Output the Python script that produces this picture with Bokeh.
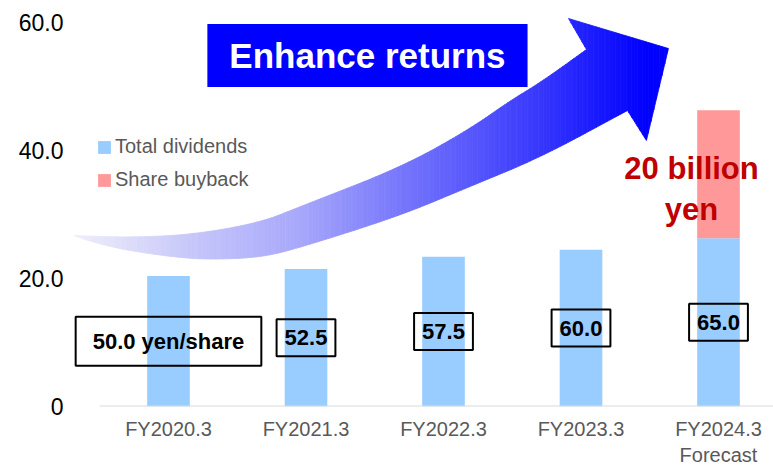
import numpy as np
from bokeh.plotting import figure
from bokeh.models import Range1d, FixedTicker, Legend, LegendItem, ColumnDataSource
from bokeh.core.properties import value
from bokeh.embed import file_html
from bokeh.resources import INLINE

# ---- data (billion yen) ----
categories = ["FY2020.3", "FY2021.3", "FY2022.3", "FY2023.3", "FY2024.3\nForecast"]
total_dividends = [20.4, 21.5, 23.4, 24.5, 26.3]
share_buyback = [0.0, 0.0, 0.0, 0.0, 20.0]
dividend_per_share = [50.0, 52.5, 57.5, 60.0, 65.0]
y_ticks = [0, 20, 40, 60]
y_tick_labels = ["0", "20.0", "40.0", "60.0"]

# ---- decorative arrow outline (in chart units) ----
# upper edge of the shaft, from the tail tip to the notch under the upper barb
arrow_upper_x = [-0.691, -0.276, 0.182, 0.669, 0.960, 1.687, 2.175, 2.487, 2.705, 3.040]
arrow_upper_y = [26.72, 26.41, 26.88, 28.75, 31.25, 37.34, 43.13, 47.81, 50.63, 55.78]
# arrow head: upper barb cut, tip, lower barb, lower notch
arrow_head_x = [3.040, 3.636, 3.476, 3.338]
arrow_head_y = [59.78, 55.94, 41.56, 46.25]
# lower edge of the shaft, from the lower notch back to the tail tip
arrow_lower_x = [3.338, 2.705, 2.175, 1.687, 0.960, 0.669, 0.305, 0.065, -0.298, -0.545, -0.691]
arrow_lower_y = [46.25, 38.91, 34.22, 29.84, 24.84, 23.28, 22.97, 23.28, 24.38, 25.63, 26.72]
arrow_barb_x = [2.909, 3.040, 3.040]
arrow_barb_y = [60.63, 59.78, 55.78]
gradient_x = [-0.691, 0.16, 0.96, 1.687, 2.196, 2.705, 3.142, 3.505]
gradient_level = [240, 200, 168, 120, 88, 56, 24, 0]

FONT = "Liberation Sans"

x = list(range(len(categories)))
stack_top = [d + b for d, b in zip(total_dividends, share_buyback)]

p = figure(width=773, height=469, output_backend="svg", toolbar_location=None,
           x_range=Range1d(-0.7127, 4.4), y_range=Range1d(0, 63.44),
           min_border_left=70, min_border_right=0, min_border_top=0, min_border_bottom=63)
p.outline_line_color = None
p.xgrid.visible = False
p.ygrid.visible = False


def _chaikin(pts, n=3):
    for _ in range(n):
        new = [pts[0]]
        for a, b in zip(pts[:-1], pts[1:]):
            new.append((0.75 * a[0] + 0.25 * b[0], 0.75 * a[1] + 0.25 * b[1]))
            new.append((0.25 * a[0] + 0.75 * b[0], 0.25 * a[1] + 0.75 * b[1]))
        new.append(pts[-1])
        pts = new
    return pts


def _clip(pts, inside, xc):
    out = []
    for i in range(len(pts)):
        cur, prev = pts[i], pts[i - 1]
        if inside(cur):
            if not inside(prev):
                t = (xc - prev[0]) / (cur[0] - prev[0])
                out.append((xc, prev[1] + t * (cur[1] - prev[1])))
            out.append(cur)
        elif inside(prev):
            t = (xc - prev[0]) / (cur[0] - prev[0])
            out.append((xc, prev[1] + t * (cur[1] - prev[1])))
    return out


upper = _chaikin(list(zip(arrow_upper_x, arrow_upper_y)))
lower = _chaikin(list(zip(arrow_lower_x, arrow_lower_y)))
body = upper + list(zip(arrow_head_x, arrow_head_y)) + lower[1:-1]
barb = list(zip(arrow_barb_x, arrow_barb_y))

# gradient arrow via thin vertical strips
xs_list, ys_list, colors = [], [], []
edges = np.arange(min(arrow_upper_x), max(arrow_head_x) + 0.02, 0.02)
for poly in (body, barb):
    for a, b in zip(edges[:-1], edges[1:]):
        pts = _clip(poly, lambda q: q[0] >= a, a)
        if pts:
            pts = _clip(pts, lambda q: q[0] <= b, b)
        if len(pts) < 3:
            continue
        lev = float(np.interp((a + b) / 2, gradient_x, gradient_level))
        blue = 250 + 5 * (1 - lev / 240)
        colors.append("#%02x%02x%02x" % (int(lev), int(lev), int(blue)))
        xs_list.append([q[0] for q in pts])
        ys_list.append([q[1] for q in pts])
p.patches(xs_list, ys_list, fill_color=colors, line_color=colors, line_width=0.8)

# ---- bars ----
src = ColumnDataSource(dict(x=x, div=total_dividends, top=stack_top))
r_div = p.vbar(x="x", top="div", bottom=0, width=0.31, source=src,
               fill_color="#99CCFF", line_color=None)
r_buy = p.vbar(x="x", top="top", bottom="div", width=0.31, source=src,
               fill_color="#FF9999", line_color=None)

# baseline
p.segment(x0=-0.5, y0=0, x1=4.4, y1=0, line_color="#D9D9D9", line_width=2)

# ---- per-share labels ----
p.text(x=[x[0]], y=[total_dividends[0] / 2], text=[f"{dividend_per_share[0]:.1f} yen/share"],
       text_font=value(FONT), text_font_size="22px", text_font_style="bold", text_color="black",
       text_align="center", text_baseline="middle",
       border_line_color="black", border_line_width=2, padding=(17, 12))
p.text(x=x[1:], y=[d / 2 for d in total_dividends[1:]],
       text=[f"{v:.1f}" for v in dividend_per_share[1:]],
       text_font=value(FONT), text_font_size="22px", text_font_style="bold", text_color="black",
       text_align="center", text_baseline="middle",
       border_line_color="black", border_line_width=2, padding=(8, 11))

# buyback annotation
p.text(x=[3.804], y=[34.0], text=[f"{share_buyback[4]:.0f} billion\nyen"],
       text_font=value(FONT), text_font_size="31px", text_font_style="bold", text_color="#C00000",
       text_align="center", text_baseline="middle", text_line_height=1.15)

# title box
p.text(x=[1.447], y=[54.84], text=["Enhance returns"],
       text_font=value(FONT), text_font_size="35px", text_font_style="bold", text_color="white",
       text_align="center", text_baseline="middle",
       background_fill_color="#0000FF", padding=(22, 12))

# ---- axes ----
p.xaxis.ticker = FixedTicker(ticks=x)
p.xaxis.major_label_overrides = {i: c for i, c in zip(x, categories)}
p.xaxis.axis_line_color = None
p.xaxis.major_tick_line_color = None
p.xaxis.minor_tick_line_color = None
p.xaxis.major_tick_out = 0
p.xaxis.major_tick_in = 0
p.xaxis.major_label_text_font = FONT
p.xaxis.major_label_text_font_size = "20px"
p.xaxis.major_label_text_color = "#595959"
p.xaxis.major_label_standoff = 11

p.yaxis.ticker = FixedTicker(ticks=y_ticks)
p.yaxis.major_label_overrides = {t: l for t, l in zip(y_ticks, y_tick_labels)}
p.yaxis.axis_line_color = None
p.yaxis.major_tick_line_color = None
p.yaxis.minor_tick_line_color = None
p.yaxis.major_tick_out = 0
p.yaxis.major_tick_in = 0
p.yaxis.major_label_text_font = FONT
p.yaxis.major_label_text_font_size = "23px"
p.yaxis.major_label_text_color = "black"
p.yaxis.major_label_standoff = 7

# ---- legend ----
legend = Legend(items=[LegendItem(label="Total dividends", renderers=[r_div]),
                       LegendItem(label="Share buyback", renderers=[r_buy])],
                location=(26, 215), orientation="vertical",
                background_fill_alpha=0, border_line_color=None,
                glyph_width=16, glyph_height=16, label_standoff=3,
                padding=0, margin=0, spacing=10,
                label_text_font=FONT, label_text_font_size="20px",
                label_text_color="#595959")
p.add_layout(legend)

open("out.html", "w").write(file_html(p, INLINE))
